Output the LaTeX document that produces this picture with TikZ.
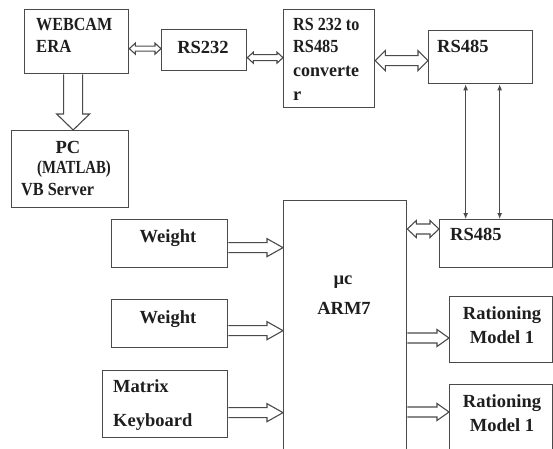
\documentclass[tikz,border=0pt]{standalone}
\usepackage{fontspec}
\setmainfont{Liberation Serif}
\usetikzlibrary{calc,arrows.meta}
\definecolor{boxc}{HTML}{4A4A4A}
\definecolor{txtc}{HTML}{1E1E1E}
\newcommand{\sqz}[2]{\scalebox{#1}[1]{#2}}
\begin{document}
\begin{tikzpicture}[x=1pt,y=-1pt,
  box/.style={draw=boxc, line width=1.3pt, anchor=north west, inner sep=0pt, fill=white},
  lbl/.style={font=\fontsize{18.5}{22}\selectfont\bfseries, text=txtc, inner sep=0pt},
  arr/.style={draw=boxc, line width=1.1pt, fill=white, line join=miter},
  harr/.style n args={3}{arr, to path={let \p1=(\tikztostart), \p2=(\tikztotarget) in
     (\x1,{\y1+#1pt}) -- ({\x2-#3pt},{\y1+#1pt}) -- ({\x2-#3pt},{\y1+#2pt}) -- (\x2,\y1)
     -- ({\x2-#3pt},{\y1-#2pt}) -- ({\x2-#3pt},{\y1-#1pt}) -- (\x1,{\y1-#1pt})}},
  darr/.style n args={3}{arr, to path={let \p1=(\tikztostart), \p2=(\tikztotarget) in
     (\x1,\y1) -- ({\x1+#3pt},{\y1+#2pt}) -- ({\x1+#3pt},{\y1+#1pt}) -- ({\x2-#3pt},{\y1+#1pt})
     -- ({\x2-#3pt},{\y1+#2pt}) -- (\x2,\y1) -- ({\x2-#3pt},{\y1-#2pt}) -- ({\x2-#3pt},{\y1-#1pt})
     -- ({\x1+#3pt},{\y1-#1pt}) -- ({\x1+#3pt},{\y1-#2pt}) -- cycle}},
  varr/.style n args={3}{arr, to path={let \p1=(\tikztostart), \p2=(\tikztotarget) in
     ({\x1-#1pt},\y1) -- ({\x1-#1pt},{\y2+#3pt}) -- ({\x1-#2pt},{\y2+#3pt}) -- (\x1,\y2)
     -- ({\x1+#2pt},{\y2+#3pt}) -- ({\x1+#1pt},{\y2+#3pt}) -- ({\x1+#1pt},\y1)}},
  thinar/.style={draw=boxc, line width=1.2pt, {Latex[length=6pt,width=5pt]}-{Latex[length=6pt,width=5pt]}}
]
\clip (0,0) rectangle (553,448);
\fill[white] (0,0) rectangle (553,448);

% boxes
\node[box, minimum width=104, minimum height=64] (web) at (24,9) {};
\node[box, minimum width=85, minimum height=41] (r232) at (161,29) {};
\node[box, minimum width=117, minimum height=77] (pc) at (11,130) {};
\node[box, minimum width=91, minimum height=98] (conv) at (283,9) {};
\node[box, minimum width=104, minimum height=53] (r485a) at (428,30) {};
\node[box, minimum width=116, minimum height=48] (w1) at (111,219) {};
\node[box, minimum width=116, minimum height=48] (w2) at (111,299) {};
\node[box, minimum width=125, minimum height=67] (kbd) at (102,370) {};
\node[box, minimum width=123, minimum height=270] (arm) at (283,200) {};
\node[box, minimum width=113, minimum height=48] (r485b) at (439,219) {};
\node[box, minimum width=103, minimum height=66] (rat1) at (449,296) {};
\node[box, minimum width=103, minimum height=80] (rat2) at (449,384) {};

% texts
\node[lbl, anchor=base west] (tweb1) at (36,30) {\sqz{0.87}{WEBCAM}};
\node[lbl, anchor=base west] (tweb2) at (36,52) {\sqz{0.9}{ERA}};
\node[lbl, anchor=base] (tr232) at (203,53) {RS232};
\node[lbl, anchor=base] (tpc1) at (68,153) {PC};
\node[lbl, anchor=base] (tpc2) at (74,173) {\sqz{0.8}{(MATLAB)}};
\node[lbl, anchor=base west] (tpc3) at (21,195) {\sqz{0.88}{VB Server}};
\node[lbl, anchor=base west] (tc1) at (293,30) {\sqz{0.87}{RS 232 to}};
\node[lbl, anchor=base west] (tc2) at (293,52) {\sqz{0.88}{RS485}};
\node[lbl, anchor=base west] (tc3) at (293,76) {\sqz{0.97}{converte}};
\node[lbl, anchor=base west] (tc4) at (293,100) {r};
\node[lbl, anchor=base west] (tra) at (437,52) {RS485};
\node[lbl, anchor=base] (tw1) at (168,242) {Weight};
\node[lbl, anchor=base] (tw2) at (168,323) {Weight};
\node[lbl, anchor=base west] (tk1) at (113,392) {Matrix};
\node[lbl, anchor=base west] (tk2) at (113,426) {Keyboard};
\node[lbl, anchor=base] (tmu) at (343,284) {µc};
\node[lbl, anchor=base] (tarm) at (344,314) {ARM7};
\node[lbl, anchor=base west] (trb) at (450,240) {RS485};
\node[lbl, anchor=base] (tr1a) at (502,319) {Rationing};
\node[lbl, anchor=base] (tr1b) at (502,343) {Model 1};
\node[lbl, anchor=base] (tr2a) at (502,407) {Rationing};
\node[lbl, anchor=base] (tr2b) at (502,431) {Model 1};

% connectors
\draw[darr={2.5}{5.5}{6}] ([yshift=-7pt]web.east) to ([yshift=-7pt]r232.west);
\draw[darr={3}{5.5}{6}] ([yshift=-7.5pt]r232.east) to (conv.west);
\draw[darr={5}{10}{10}] ([yshift=-2pt]conv.east) to (r485a.west);
\draw[varr={9.5}{16.5}{16}] ([xshift=-3.5pt]web.south) to ([xshift=-3.5pt]web.south |- pc.north);
\draw[harr={5}{9}{16}] ([yshift=-4pt]w1.east) to (arm.west);
\draw[harr={5}{9}{16}] ([yshift=-7pt]w2.east) to (arm.west);
\draw[harr={5}{9}{16}] ([yshift=-8.5pt]kbd.east) to (arm.west);
\draw[darr={5}{8.5}{9}] ([yshift=-29pt]arm.north east) to (r485b.west);
\draw[harr={5}{8.5}{12}] ([yshift=-138pt]arm.north east) to (rat1.west);
\draw[harr={5}{8.5}{12}] ([yshift=-212pt]arm.north east) to (rat2.west);
\draw[thinar] ([xshift=-15pt]r485a.south) -- ([xshift=-15pt]r485a.south |- r485b.north);
\draw[thinar] ([xshift=19pt]r485a.south) -- ([xshift=19pt]r485a.south |- r485b.north);
\end{tikzpicture}
\end{document}
